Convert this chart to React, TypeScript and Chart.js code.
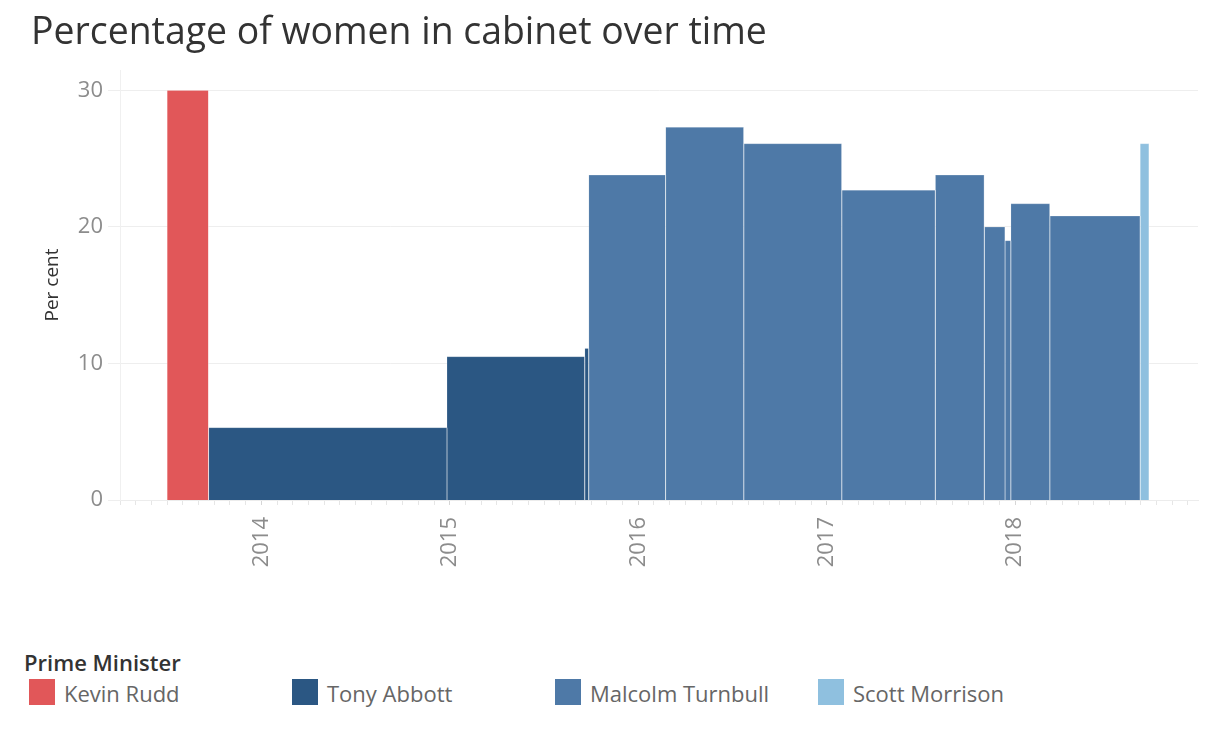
import React, { useEffect, useRef } from "react";
import { Chart, registerables } from "chart.js";

Chart.register(...registerables);

const TITLE = "Percentage of women in cabinet over time";
const Y_TITLE = "Per cent";
const LEGEND_TITLE = "Prime Minister";
const PRIME_MINISTERS = ["Kevin Rudd", "Tony Abbott", "Malcolm Turnbull", "Scott Morrison"];
const PM_COLORS = ["#E15759", "#2B5783", "#4E79A7", "#8FC0DF"];

// cabinet periods, in decimal years
const PERIOD_START = [2013.5, 2013.72, 2014.985, 2015.716, 2015.737, 2016.145, 2016.56, 2017.08, 2017.576, 2017.836, 2017.946, 2017.977, 2018.184, 2018.663];
const PERIOD_END = [2013.72, 2014.985, 2015.716, 2015.737, 2016.145, 2016.56, 2017.08, 2017.576, 2017.836, 2017.946, 2017.977, 2018.184, 2018.663, 2018.71];
const PERIOD_VALUE = [30, 5.3, 10.5, 11.1, 23.8, 27.3, 26.1, 22.7, 23.8, 20, 19, 21.7, 20.8, 26.1];
const PERIOD_PM = [0, 1, 1, 1, 2, 2, 2, 2, 2, 2, 2, 2, 2, 3];

const Y_TICKS = [0, 10, 20, 30];
const YEAR_TICKS = [2014, 2015, 2016, 2017, 2018];
const X_MIN = 2013.25;
const X_MAX = 2018.97;
const Y_MIN = 0;
const Y_MAX = 31.5;

const FONT = "'Open Sans', Lato, sans-serif";

function monthTicks(): number[] {
  const out: number[] = [];
  for (let m = Math.ceil(X_MIN * 12 - 1e-6); m <= Math.floor(X_MAX * 12 + 1e-6); m++) out.push(m / 12);
  return out;
}

function isYear(v: number) {
  return YEAR_TICKS.some((y) => Math.abs(y - v) < 1e-6);
}

export default function App() {
  const ref = useRef<HTMLCanvasElement | null>(null);

  useEffect(() => {
    if (!ref.current) return;
    const months = monthTicks();
    const datasets = PERIOD_VALUE.map((v, i) => ({
      label: PRIME_MINISTERS[PERIOD_PM[i]],
      data: [
        { x: PERIOD_START[i], y: 0 },
        { x: PERIOD_START[i], y: v },
        { x: PERIOD_END[i], y: v },
        { x: PERIOD_END[i], y: 0 },
      ],
      backgroundColor: PM_COLORS[PERIOD_PM[i]],
      borderColor: "rgba(255,255,255,0.2)",
      borderWidth: 1,
      fill: "origin",
      pointRadius: 0,
      tension: 0,
    }));
    const chart = new Chart(ref.current, {
      type: "line",
      data: { datasets: datasets as any },
      options: {
        animation: false,
        responsive: false,
        maintainAspectRatio: false,
        layout: { padding: { top: 70, right: 22, left: 0, bottom: 0 } },
        plugins: { legend: { display: false }, tooltip: { enabled: false } },
        scales: {
          x: {
            type: "linear",
            min: X_MIN,
            max: X_MAX,
            afterBuildTicks: (s: any) => {
              s.ticks = months.map((v) => ({ value: v }));
            },
            afterFit: (s: any) => {
              s.height = 120;
              s.paddingLeft = 0;
              s.paddingRight = 0;
            },
            ticks: {
              autoSkip: false,
              minRotation: 90,
              maxRotation: 90,
              padding: 12,
              color: "#8c8c8c",
              font: { family: FONT, size: 22 },
              callback: (v: any) => (isYear(Number(v)) ? String(Math.round(Number(v))) : ""),
            },
            grid: {
              drawOnChartArea: false,
              tickLength: 5,
              color: (ctx: any) => (ctx.tick && isYear(ctx.tick.value) ? "#d6d6d6" : "#e6e6e6"),
            },
            border: { display: true, color: "#ececec" },
          },
          y: {
            min: Y_MIN,
            max: Y_MAX,
            afterBuildTicks: (s: any) => {
              s.ticks = Y_TICKS.map((v) => ({ value: v }));
            },
            afterFit: (s: any) => {
              s.width = 120;
              s.paddingTop = 0;
              s.paddingBottom = 0;
            },
            ticks: { padding: 5, color: "#8c8c8c", font: { family: FONT, size: 22 } },
            grid: { color: "#eeeeee", tickLength: 12 },
            border: { display: true, color: "#f0f0f0" },
            title: {
              display: true,
              text: Y_TITLE,
              color: "#333333",
              font: { family: FONT, size: 19 },
              padding: { top: 41, bottom: 0 },
            },
          },
        },
      },
    } as any);
    return () => chart.destroy();
  }, []);

  return (
    <div style={{ position: "fixed", left: 0, top: 0, width: 1220, height: 732, background: "#fff", fontFamily: FONT }}>
      <canvas ref={ref} width={1220} height={620} style={{ position: "absolute", left: 0, top: 0, width: 1220, height: 620 }} />
      <div
        style={{
          position: "absolute",
          left: 31,
          top: 11,
          fontSize: 37.4,
          lineHeight: "37.4px",
          color: "#333333",
          whiteSpace: "nowrap",
        }}
      >
        {TITLE}
      </div>
      <div
        style={{
          position: "absolute",
          left: 24,
          top: 651,
          fontSize: 22,
          lineHeight: "22px",
          fontWeight: 600,
          color: "#333333",
          whiteSpace: "nowrap",
        }}
      >
        {LEGEND_TITLE}
      </div>
      {PRIME_MINISTERS.map((name, i) => (
        <div key={name} style={{ position: "absolute", left: 29 + 263 * i, top: 679, height: 26, whiteSpace: "nowrap" }}>
          <div style={{ position: "absolute", left: 0, top: 0, width: 26, height: 26, background: PM_COLORS[i] }} />
          <div style={{ position: "absolute", left: 35, top: 3, fontSize: 22, lineHeight: "22px", color: "#666666" }}>{name}</div>
        </div>
      ))}
    </div>
  );
}
